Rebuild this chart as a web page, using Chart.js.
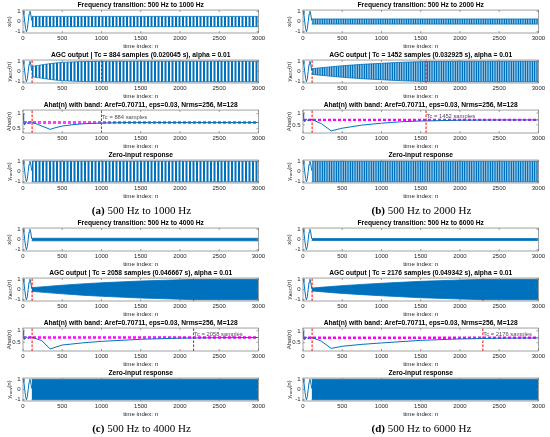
<!DOCTYPE html>
<html>
<head>
<meta charset="utf-8">
<script src="https://cdn.jsdelivr.net/npm/chart.js@4.4.0/dist/chart.umd.min.js"></script>
<style>
  body { margin: 0; background: #fff; width: 550px; height: 437px; position: relative; overflow: hidden; }
  canvas { position: absolute; }
  .cap { position: absolute; width: 237px; text-align: center; font: 11px 'Liberation Serif', 'Times New Roman', serif; line-height: 12px; color: #000; will-change: transform; -webkit-font-smoothing: antialiased; }
</style>
</head>
<body>
<script>
// Values
var panelIds = ['a', 'b', 'c', 'd'];
var toneHz = [1000, 2000, 4000, 6000];
var tcSamples = [884, 1452, 2058, 2176];
var tcSeconds = ['0.020045', '0.032925', '0.046667', '0.049342'];
var transitionN = 116;
var bandStartN = 110;
var aref = 0.70711;
var eps = 0.03;
var xTicks = [0, 500, 1000, 1500, 2000, 2500, 3000];
var sigTicks = [-1, 0, 1];
var ahatTicks = [0.5, 1];
var sigRange = [-1.12, 1.12];
var ahatYMin = [0.36, 0.16, 0.12, 0.15];
var ahatYMax = 1.12;
var tcNoteY = 0.86;

// first 500 Hz cycle, the same in every signal plot
var headCycle = [[0, 1], [11, 0.7], [22, 0], [33, -0.7], [44, -1], [55, -0.7], [66, 0], [77, 0.7], [88, 1], [99, 0.7], [110, 0.1]];

// amplitude of x(n) after the switch
var inputAmp = [0.5, 0.25, 0.125, 0.09];

// envelope of the AGC output after the switch
var agcEnvA = [[110, 0.5], [200, 0.6], [300, 0.72], [400, 0.82], [500, 0.89], [700, 0.96], [1000, 1], [3000, 1]];
var agcEnvB = [[110, 0.28], [300, 0.42], [500, 0.56], [750, 0.7], [1000, 0.8], [1250, 0.9], [1570, 0.98], [2000, 1], [3000, 1]];
var agcEnvC = [[110, 0.18], [300, 0.3], [500, 0.42], [750, 0.55], [1000, 0.66], [1500, 0.83], [2000, 0.95], [2200, 0.99], [3000, 1]];
var agcEnvD = [[110, 0.14], [300, 0.26], [500, 0.38], [750, 0.5], [1000, 0.61], [1500, 0.8], [2000, 0.93], [2300, 0.99], [3000, 1]];

// zero-input response envelope
var zeroEnv = [[110, 1], [3000, 1]];

// Ahat(n): common start, then one tail per panel
var ahatHead = [[0, 1.0], [8, 0.8], [18, 0.62], [30, 0.66], [42, 0.74], [55, 0.7], [68, 0.66], [82, 0.72], [96, 0.73], [116, 0.72]];
var ahatTailA = [[230, 0.6], [346, 0.48], [420, 0.54], [500, 0.59], [650, 0.64], [800, 0.67], [1000, 0.69], [1300, 0.705], [3000, 0.707]];
var ahatTailB = [[235, 0.55], [359, 0.25], [500, 0.36], [750, 0.49], [1000, 0.57], [1250, 0.63], [1500, 0.66], [2000, 0.695], [2500, 0.705], [3000, 0.707]];
var ahatTailC = [[240, 0.57], [346, 0.21], [500, 0.38], [750, 0.47], [1000, 0.54], [1500, 0.63], [2000, 0.68], [2500, 0.7], [3000, 0.706]];
var ahatTailD = [[232, 0.57], [359, 0.26], [500, 0.35], [750, 0.43], [1000, 0.49], [1500, 0.6], [2000, 0.66], [2500, 0.69], [3000, 0.703]];

var agcEnv = [agcEnvA, agcEnvB, agcEnvC, agcEnvD];
var ahatTail = [ahatTailA, ahatTailB, ahatTailC, ahatTailD];

// Styles
var BLUE = '#0072BD';
var RED = '#ff0000';
var MAGENTA = '#ff00ff';
var INK = '#262626';
var FONT = "'Liberation Sans', Arial, sans-serif";
var panelX = [0, 280, 0, 280];
var panelY = [0, 0, 218, 218];
var ROW = 50;

Chart.defaults.font.family = FONT;

/*
 * Vertical stripe fill to mimic a dense sine wave
 */
var stripes = function(period, bar) {
    var tile = document.createElement('canvas');
    tile.width = 7;
    tile.height = 4;
    var c = tile.getContext('2d');
    c.fillStyle = BLUE;
    for (var x = 0; x < 7 - 0.01; x += period) {
        c.fillRect(x, 0, bar, 4);
    }
    return c.createPattern(tile, 'repeat');
};

var bandFill = [stripes(3.5, 2.0), stripes(1.75, 1.25), BLUE, BLUE];

var toXY = function(arr, sign) {
    var s = sign || 1;
    return arr.map(function(p) { return {x: p[0], y: p[1] * s}; });
};

var vline = function(n, lo, hi) {
    return {data: [{x: n, y: lo}, {x: n, y: hi}], borderColor: RED, borderWidth: 1, borderDash: [2.5, 1.5]};
};

var hline = function(v) {
    return {data: [{x: 0, y: v}, {x: 3000, y: v}], borderColor: MAGENTA, borderWidth: 1.4, borderDash: [3, 2]};
};

// axes box, inward ticks, y label with subscript, Tc note
var matlabPlugin = {
    id: 'matlab',
    afterDraw: function(chart, args, o) {
        var ctx = chart.ctx, a = chart.chartArea;
        var xs = chart.scales.x, ys = chart.scales.y;
        ctx.save();
        ctx.strokeStyle = '#7a7a7a';
        ctx.lineWidth = 0.7;
        ctx.strokeRect(a.left, a.top, a.right - a.left, a.bottom - a.top);
        ctx.beginPath();
        xTicks.forEach(function(v) {
            var px = xs.getPixelForValue(v);
            ctx.moveTo(px, a.bottom); ctx.lineTo(px, a.bottom - 2);
            ctx.moveTo(px, a.top); ctx.lineTo(px, a.top + 2);
        });
        ys.ticks.forEach(function(t) {
            var py = ys.getPixelForValue(t.value);
            ctx.moveTo(a.left, py); ctx.lineTo(a.left + 2, py);
            ctx.moveTo(a.right, py); ctx.lineTo(a.right - 2, py);
        });
        ctx.stroke();

        if (o.note) {
            ctx.fillStyle = '#4d4d4d';
            ctx.font = '5.8px ' + FONT;
            ctx.textBaseline = 'middle';
            ctx.fillText(o.note.text, xs.getPixelForValue(o.note.n) + 0.5, ys.getPixelForValue(o.note.y));
        }

        // y label
        var lab = o.ylab;
        var mainFont = '6px ' + FONT, subFont = '4.4px ' + FONT;
        ctx.translate(9, (a.top + a.bottom) / 2);
        ctx.rotate(-Math.PI / 2);
        ctx.fillStyle = INK;
        ctx.textBaseline = 'middle';
        ctx.font = mainFont;
        var w1 = ctx.measureText(lab.main).width;
        var w3 = lab.tail ? ctx.measureText(lab.tail).width : 0;
        ctx.font = subFont;
        var w2 = lab.sub ? ctx.measureText(lab.sub).width : 0;
        var x0 = -(w1 + w2 + w3) / 2;
        ctx.font = mainFont;
        ctx.fillText(lab.main, x0, 0);
        if (lab.sub) {
            ctx.font = subFont;
            ctx.fillText(lab.sub, x0 + w1, 1.5);
            ctx.font = mainFont;
            ctx.fillText(lab.tail, x0 + w1 + w2, 0);
        }
        ctx.restore();
    }
};

var makeChart = function(left, top, title, datasets, yMin, yMax, yTicks, ylab, note) {
    var canvas = document.createElement('canvas');
    canvas.width = 267;
    canvas.height = ROW;
    canvas.style.left = left + 'px';
    canvas.style.top = top + 'px';
    document.body.appendChild(canvas);

    var tickFont = {size: 6, family: FONT};
    var labelFont = {size: 6.2, family: FONT};
    datasets.forEach(function(d) {
        d.pointRadius = 0;
        d.tension = 0;
        if (d.fill === undefined) d.fill = false;
    });

    return new Chart(canvas.getContext('2d'), {
        type: 'line',
        data: {datasets: datasets},
        options: {
            responsive: false,
            animation: false,
            events: [],
            layout: {padding: {left: 0, right: 7, top: 0, bottom: 0}},
            plugins: {
                legend: {display: false},
                tooltip: {enabled: false},
                title: {
                    display: true, text: title, fullSize: false, color: '#000',
                    font: {size: 6.7, weight: 'bold', lineHeight: 1.2},
                    padding: {top: 1.5, bottom: 0.5}
                },
                matlab: {ylab: ylab, note: note}
            },
            scales: {
                x: {
                    type: 'linear', min: 0, max: 3000,
                    afterBuildTicks: function(s) { s.ticks = xTicks.map(function(v) { return {value: v}; }); },
                    afterFit: function(s) { s.height = 17; },
                    ticks: {font: tickFont, color: INK, padding: 1.9, maxRotation: 0, autoSkip: false,
                        callback: function(v) { return String(v); }},
                    title: {display: true, text: 'time index: n', color: INK, font: labelFont, padding: 0},
                    grid: {display: false, drawTicks: false},
                    border: {display: false}
                },
                y: {
                    type: 'linear', min: yMin, max: yMax,
                    afterBuildTicks: function(s) { s.ticks = yTicks.map(function(v) { return {value: v}; }); },
                    afterFit: function(s) { s.width = 23; },
                    ticks: {font: tickFont, color: INK, padding: 2.5, callback: function(v) { return String(v); }},
                    grid: {display: false, drawTicks: false},
                    border: {display: false}
                }
            }
        },
        plugins: [matlabPlugin]
    });
};

var signalSets = function(env, p) {
    return [
        {data: toXY(headCycle), borderColor: BLUE, borderWidth: 1},
        {data: toXY(env), borderColor: BLUE, borderWidth: 0.8, backgroundColor: bandFill[p], fill: '+1'},
        {data: toXY(env, -1), borderColor: BLUE, borderWidth: 0.8}
    ];
};

panelIds.forEach(function(id, p) {
    var x0 = panelX[p], y0 = panelY[p];
    var tcEnd = transitionN + tcSamples[p];
    var inEnv = [[bandStartN, inputAmp[p]], [3000, inputAmp[p]]];

    makeChart(x0, y0, 'Frequency transition: 500 Hz to ' + toneHz[p] + ' Hz',
        signalSets(inEnv, p), sigRange[0], sigRange[1], sigTicks, {main: 'x(n)'});

    var agc = signalSets(agcEnv[p], p);
    agc.push(vline(transitionN, sigRange[0], sigRange[1]), vline(tcEnd, sigRange[0], sigRange[1]));
    makeChart(x0, y0 + ROW, 'AGC output | Tc = ' + tcSamples[p] + ' samples (' + tcSeconds[p] + ' s), alpha = 0.01',
        agc, sigRange[0], sigRange[1], sigTicks, {main: 'y', sub: 'AGC', tail: '(n)'});

    var ahat = [
        {data: toXY(ahatHead.concat(ahatTail[p])), borderColor: BLUE, borderWidth: 1},
        hline(aref * (1 + eps)),
        hline(aref * (1 - eps)),
        vline(transitionN, ahatYMin[p], ahatYMax),
        vline(tcEnd, ahatYMin[p], ahatYMax)
    ];
    makeChart(x0, y0 + 2 * ROW, 'Ahat(n) with band: Aref=' + aref + ', eps=' + eps + ', Nrms=256, M=128',
        ahat, ahatYMin[p], ahatYMax, ahatTicks, {main: 'Ahat(n)'},
        {text: 'Tc = ' + tcSamples[p] + ' samples', n: tcEnd, y: tcNoteY});

    makeChart(x0, y0 + 3 * ROW, 'Zero-input response',
        signalSets(zeroEnv, p), sigRange[0], sigRange[1], sigTicks, {main: 'y', sub: 'new', tail: '(n)'});

    var cap = document.createElement('div');
    cap.className = 'cap';
    cap.style.left = (x0 + 23) + 'px';
    cap.style.top = (y0 + 204) + 'px';
    cap.innerHTML = '<b>(' + id + ')</b> 500 Hz to ' + toneHz[p] + ' Hz';
    document.body.appendChild(cap);
});
</script>
</body>
</html>
